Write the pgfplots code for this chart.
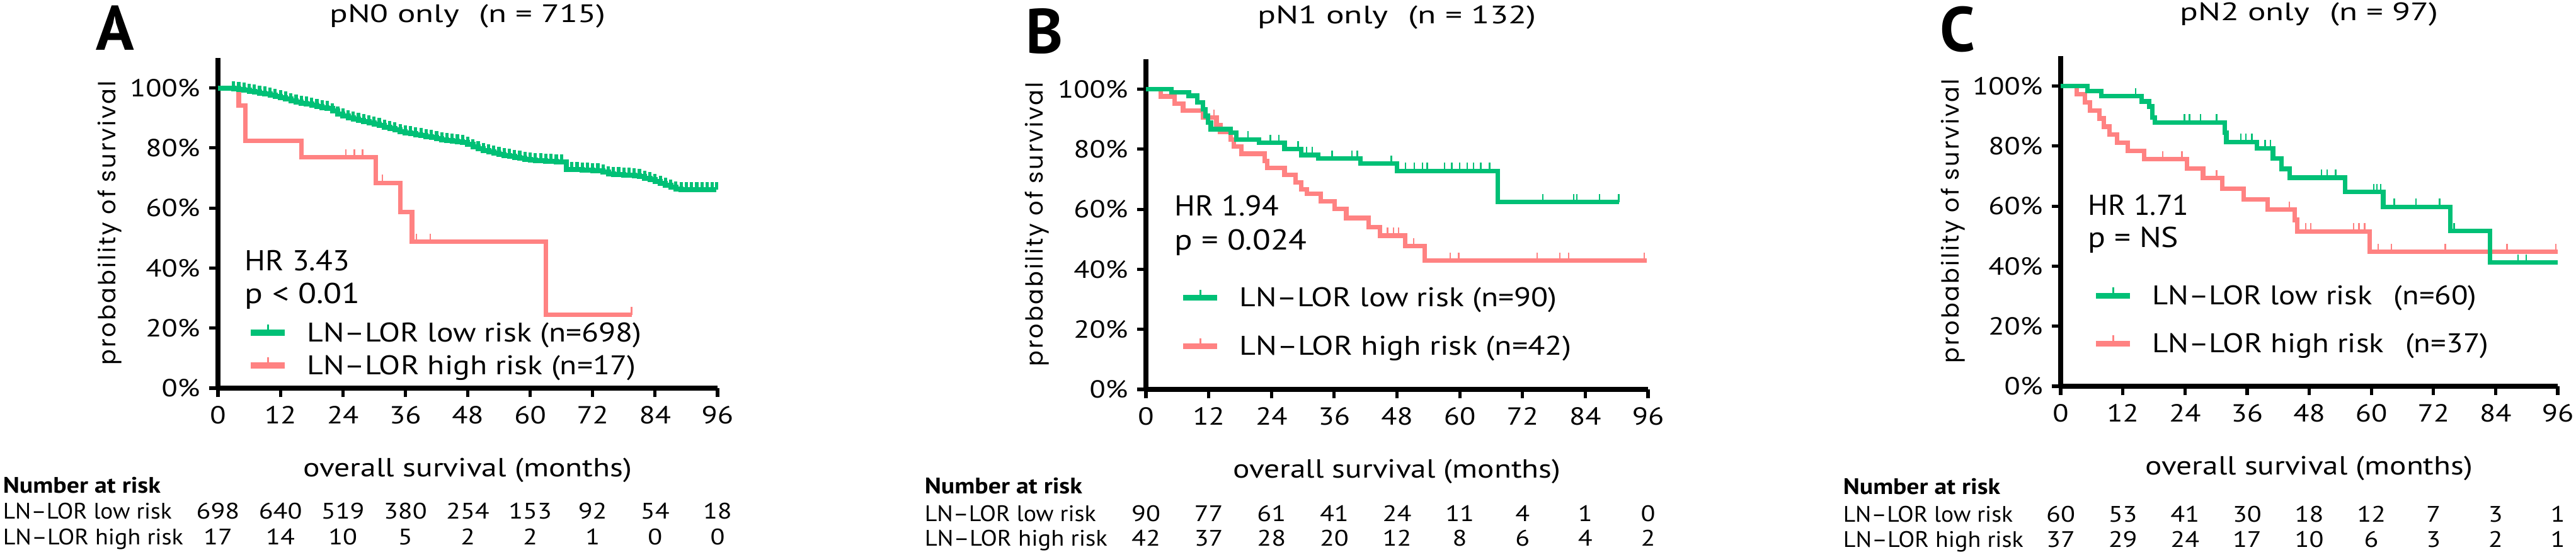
\documentclass[border=0pt]{standalone}
\usepackage{graphicx}
\usepackage{pgfplots}
\usepackage{pgfplotstable}
\pgfplotsset{compat=1.18}
\usepackage{fontspec}
\setmainfont{PT Sans}
\newfontfamily\wide{PT Sans}[FakeStretch=1.18]
\newfontfamily\ylfont{Poppins}[LetterSpace=8]
\definecolor{kmgreen}{RGB}{0,192,118}
\definecolor{kmred}{RGB}{255,130,130}
\pgfdeclareplotmark{ctick}{%
  \pgfpathmoveto{\pgfpointorigin}%
  \pgfpathlineto{\pgfpoint{0pt}{\pgfplotmarksize}}%
  \pgfusepathqstroke}
\newcommand\fs[1]{\fontsize{#1}{#1}\selectfont}
\newcommand\rb[3]{\resizebox{#1}{\height}{\fs{#2}#3}}
\newcommand\nrow[5]{%
  \node[tbl] at (axis cs:0,#1) {#2};
  \node[tbl] at (axis cs:12,#1) {#3};
  \node[tbl] at (axis cs:24,#1) {#4};
  \node[tbl] at (axis cs:36,#1) {#5};
  \nrowtail{#1}}
\newcommand\nrowtail[6]{%
  \node[tbl] at (axis cs:48,#1) {#2};
  \node[tbl] at (axis cs:60,#1) {#3};
  \node[tbl] at (axis cs:72,#1) {#4};
  \node[tbl] at (axis cs:84,#1) {#5};
  \node[tbl] at (axis cs:96,#1) {#6};}
\tikzset{tbl/.style={anchor=base, font=\wide\fs{8.9}, inner sep=0pt},
  tbll/.style={anchor=base west, inner sep=0pt},
  hr/.style={anchor=base west, inner sep=0pt}}
\pgfplotsset{
  km/.style={
    scale only axis, height=131pt,
    xmin=0, xmax=96, ymin=0, ymax=110,
    axis lines*=left,
    axis line style={-, line width=1.8pt},
    xtick={0,12,24,36,48,60,72,84,96},
    ytick={0,20,40,60,80,100},
    yticklabel={\pgfmathprintnumber{\tick}\%},
    /pgf/number format/assume math mode=true,
    tick align=outside,
    major tick length=3.6pt,
    tick style={line width=1.3pt, black},
    ticklabel style={font=\wide\fs{9.8}},
    clip=false,
    title style={at={(axis description cs:0.5,1)}, anchor=base, yshift=8pt, inner sep=0pt},
    xlabel style={at={(axis description cs:0.5,-0.269)}, anchor=base, inner sep=0pt},
    ylabel style={at={(axis description cs:-0.217,0.5)}, anchor=center, inner sep=0pt},
    ylabel={\resizebox{112.75pt}{\height}{\ylfont\fs{9.3}probability of survival}},
    legend style={draw=none, fill=none, inner sep=0pt,
      nodes={inner sep=0pt, text height=8.5pt, text depth=1.5pt}, anchor=west},
    legend cell align=left,
    reverse legend,
  },
  curve/.style={const plot, line width=1.8pt, mark=none},
  cens/.style={only marks, mark=ctick, mark size=3.2pt, mark options={line width=0.6pt}, forget plot},
  leggreen/.style={legend image code/.code={
      \path[draw=none,fill=none] (0pt,-3.3pt) rectangle (22.25pt,3.3pt);
      \draw[kmgreen,line width=2.3pt] (0pt,0pt)--(13.5pt,0pt);
      \draw[kmgreen,line width=0.6pt] (6.75pt,0pt)--(6.75pt,3.3pt);}},
  legred/.style={legend image code/.code={
      \path[draw=none,fill=none] (0pt,-3.3pt) rectangle (22.25pt,3.3pt);
      \draw[kmred,line width=2.3pt] (0pt,0pt)--(13.5pt,0pt);
      \draw[kmred,line width=0.6pt] (6.75pt,0pt)--(6.75pt,3.3pt);}},
}
\pgfplotstableread{
x y
0 100
3 99.8
4 99.5
5 99.2
6 98.9
7 98.6
8 98.3
9 98.0
10 97.6
11 97.2
12 96.8
13 96.3
14 95.8
15 95.3
16 94.9
17 94.6
18 94.3
19 93.9
20 93.5
21 93.1
22 92.3
23 91.4
24 90.6
25 90.1
26 89.7
27 89.3
28 88.8
29 88.3
30 87.9
31 87.5
32 87.0
33 86.5
34 86.0
35 85.5
36 85.1
37 84.7
38 84.4
39 84.1
40 83.8
41 83.5
42 83.1
43 82.8
44 82.5
45 82.3
46 82.1
47 81.9
48 81.3
49 80.5
50 79.8
51 79.2
52 78.7
53 78.3
54 77.9
55 77.5
56 77.2
57 76.9
58 76.6
59 76.3
60 76.0
61 75.8
62 75.7
63 75.6
64 75.5
65 75.4
66 75.3
67 72.9
68 72.8
69 72.8
70 72.7
71 72.6
72 72.5
73 72.5
74 71.9
75 71.3
76 71.2
77 71.1
78 71.0
79 70.9
80 70.8
81 70.5
82 70.0
83 69.5
84 68.9
85 68.2
86 67.5
87 66.9
88 66.3
89 66.1
90 66.1
91 66.1
92 66.1
93 66.1
94 66.1
95 66.1
95.8 66.1
}\greenA
\begin{document}
\begin{tikzpicture}
\useasboundingbox (0pt,0pt) rectangle (1022.25pt,221pt);
\node[anchor=base west, font=\bfseries\fs{25}, inner sep=0pt] at (38pt,201pt) {A};
\node[anchor=base west, font=\bfseries\fs{25}, inner sep=0pt] at (407pt,199.75pt) {B};
\node[anchor=base west, font=\bfseries\fs{25}, inner sep=0pt] at (769.75pt,200.5pt) {C};
% ---------------- Panel A
\begin{axis}[km, at={(86.5pt,67pt)}, width=198.25pt,
  title={\rb{109.5pt}{10}{pN0 only\hspace{0.6em}(n = 715)}},
  xlabel={\rb{130.5pt}{10.4}{overall survival (months)}},
  legend style={at={(axis cs:5.7,13.0)}, /tikz/row sep=3pt}]
\addplot[curve, kmred, legred] coordinates {(0,100) (4,94.1) (5.3,82.4) (16,76.9) (30.3,68.4) (35,58.6) (37.3,48.8) (63,24.4) (79.5,24.4)};
\addlegendentry{\rb{130.5pt}{10.7}{LN–LOR high risk (n=17)}}
\addplot[cens, kmred] coordinates {(24.6,76.9) (26.2,76.9) (27.8,76.9) (31.6,68.4) (38.1,48.8) (40.8,48.8) (79.5,24.4)};
\addplot[curve, kmgreen, leggreen, line width=2pt] table {\greenA};
\addlegendentry{\rb{132.75pt}{10.7}{LN–LOR low risk (n=698)}}
\addplot[cens, kmgreen, mark size=3pt, mark options={line width=1.3pt}, skip coords between index={0}{1}] table {\greenA};
\node[hr] at (axis cs:5.1,39.1) {\rb{41.5pt}{11.4}{HR 3.43}};
\node[hr] at (axis cs:5.1,28.2) {\rb{45.75pt}{11.4}{p < 0.01}};
\node[tbll] at (axis cs:-41.4,-34.9) {\rb{62.5pt}{8.9}{\bfseries Number at risk}};
\node[tbll] at (axis cs:-41.4,-43.5) {\rb{67pt}{8.9}{LN–LOR low risk}};
\node[tbll] at (axis cs:-41.4,-52.1) {\rb{71.5pt}{8.9}{LN–LOR high risk}};
\nrow{-43.5}{698}{640}{519}{380}{254}{153}{92}{54}{18}
\nrow{-52.1}{17}{14}{10}{5}{2}{2}{1}{0}{0}
\end{axis}
% ---------------- Panel B
\begin{axis}[km, at={(454.75pt,66.5pt)}, width=199.25pt,
  title={\rb{110.5pt}{10}{pN1 only\hspace{0.6em}(n = 132)}},
  xlabel={\rb{130pt}{10.4}{overall survival (months)}},
  legend style={at={(axis cs:6.5,22.4)}, /tikz/row sep=9.25pt}]
\addplot[curve, kmred, legred] coordinates {(0,100) (2.8,97.6) (5.5,95.2) (7.1,92.9) (10.9,90.5) (13.5,88.1) (14.2,85.7) (16.2,83.3) (16.8,80.9) (18.2,78.5) (22.7,76.1) (23.2,73.8) (26.5,71.4) (28.6,69.0) (29.7,66.7) (30.8,65.2) (33.4,62.7) (36.1,60.2) (38.3,57.1) (42.6,54.0) (44.7,51.2) (49.6,47.7) (53.3,42.9) (95.8,42.9)};
\addlegendentry{\rb{131.75pt}{10.7}{LN–LOR high risk (n=42)}}
\addplot[cens, kmred] coordinates {(13.0,90.5) (46.2,51.2) (47.3,51.2) (48.3,51.2) (51.2,47.7) (58.2,42.9) (59.8,42.9) (74.8,42.9) (79.1,42.9) (80.8,42.9) (95.3,42.9)};
\addplot[curve, kmgreen, leggreen] coordinates {(0,100) (4.9,98.9) (8.2,97.8) (9.8,95.6) (10.9,93.3) (11.4,91.1) (11.9,88.9) (12.4,86.7) (16.2,85.5) (17.3,83.3) (21.6,82.2) (26.5,80.0) (29.7,78.1) (32.9,76.9) (41,75.2) (48,72.8) (67.3,62.4) (90.4,62.4)};
\addlegendentry{\rb{126pt}{10.7}{LN–LOR low risk (n=90)}}
\addplot[cens, kmgreen] coordinates {(19.5,83.3) (23.8,82.2) (25.4,82.2) (29.1,80.0) (30.7,78.1) (31.8,78.1) (35.6,76.9) (39.4,76.9) (40.4,76.9) (46.9,75.2) (49.6,72.8) (51.3,72.8) (52.9,72.8) (53.8,72.8) (57.1,72.8) (58.5,72.8) (60,72.8) (61.4,72.8) (62.6,72.8) (64,72.8) (65.7,72.8) (75.9,62.4) (81.8,62.4) (82.4,62.4) (86.7,62.4) (90.4,62.4)};
\node[hr] at (axis cs:5.4,57.8) {\rb{41.3pt}{11.4}{HR 1.94}};
\node[hr] at (axis cs:5.4,46.4) {\rb{52.5pt}{11.4}{p = 0.024}};
\node[tbll] at (axis cs:-42.4,-34.7) {\rb{62.5pt}{8.9}{\bfseries Number at risk}};
\node[tbll] at (axis cs:-42.4,-43.9) {\rb{68pt}{8.9}{LN–LOR low risk}};
\node[tbll] at (axis cs:-42.4,-52.1) {\rb{72.5pt}{8.9}{LN–LOR high risk}};
\nrow{-43.9}{90}{77}{61}{41}{24}{11}{4}{1}{0}
\nrow{-52.1}{42}{37}{28}{20}{12}{8}{6}{4}{2}
\end{axis}
% ---------------- Panel C
\begin{axis}[km, at={(817.75pt,67.75pt)}, width=197.25pt,
  title={\rb{102.5pt}{10}{pN2 only\hspace{0.6em}(n = 97)}},
  xlabel={\rb{129.8pt}{10.4}{overall survival (months)}},
  legend style={at={(axis cs:6.2,22.2)}, /tikz/row sep=9pt}]
\addplot[curve, kmred, legred] coordinates {(0,100) (3.1,97.3) (4.7,94.6) (5.7,91.9) (7.5,89.2) (8.3,86.5) (9.4,83.8) (10.9,81.1) (13.0,78.4) (16.1,75.7) (24.4,72.5) (27.5,69.3) (31.2,65.8) (35.3,62.3) (40.0,58.8) (45.2,55.4) (45.7,51.6) (59.7,44.8) (96,44.8)};
\addlegendentry{\rb{133.5pt}{10.7}{LN–LOR high risk\hspace{0.7em}(n=37)}}
\addplot[cens, kmred] coordinates {(19.7,75.7) (23.4,75.7) (30.1,69.3) (44.2,58.8) (47.3,51.6) (48.3,51.6) (56.6,51.6) (57.6,51.6) (58.7,51.6) (61.3,44.8) (63.9,44.8) (74.3,44.8) (86.2,44.8) (95.6,44.8)};
\addplot[curve, kmgreen, leggreen] coordinates {(0,100) (5.2,98.3) (7.8,96.6) (15.6,94.9) (17.1,93.2) (17.7,89.5) (18.2,87.9) (31.7,84.5) (32.0,81.4) (37.9,79.3) (41.0,75.9) (42.6,72.4) (44.2,69.5) (54.9,64.7) (62.3,59.8) (75.3,51.7) (82.9,41.2) (96,41.2)};
\addlegendentry{\rb{128.75pt}{10.7}{LN–LOR low risk\hspace{0.7em}(n=60)}}
\addplot[cens, kmgreen] coordinates {(14.5,96.6) (23.9,87.9) (24.9,87.9) (27,87.9) (30.1,87.9) (34.8,81.4) (35.8,81.4) (36.9,81.4) (39.5,79.3) (40.5,79.3) (50.4,69.5) (51.5,69.5) (53.1,69.5) (60.5,64.7) (61.1,64.7) (61.8,64.7) (64.4,59.8) (68.6,59.8) (73.2,59.8) (76,51.7) (88.3,41.2) (89.9,41.2)};
\node[hr] at (axis cs:5.2,56.9) {\rb{40pt}{11.4}{HR 1.71}};
\node[hr] at (axis cs:5.2,46.2) {\rb{35.9pt}{11.4}{p = NS}};
\node[tbll] at (axis cs:-42.1,-36.1) {\rb{62.3pt}{8.9}{\bfseries Number at risk}};
\node[tbll] at (axis cs:-42.1,-45.2) {\rb{67.3pt}{8.9}{LN–LOR low risk}};
\node[tbll] at (axis cs:-42.1,-53.6) {\rb{71.5pt}{8.9}{LN–LOR high risk}};
\nrow{-45.2}{60}{53}{41}{30}{18}{12}{7}{3}{1}
\nrow{-53.6}{37}{29}{24}{17}{10}{6}{3}{2}{1}
\end{axis}
\end{tikzpicture}
\end{document}
